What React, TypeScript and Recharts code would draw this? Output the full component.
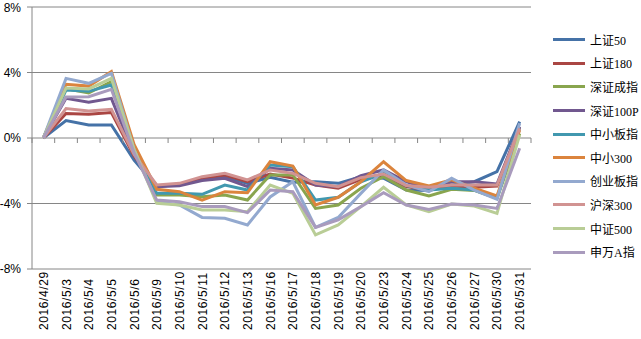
import React from "react";
import { LineChart, Line, XAxis, YAxis, CartesianGrid } from "recharts";

const dates = [
  "2016/4/29", "2016/5/3", "2016/5/4", "2016/5/5", "2016/5/6", "2016/5/9",
  "2016/5/10", "2016/5/11", "2016/5/12", "2016/5/13", "2016/5/16", "2016/5/17",
  "2016/5/18", "2016/5/19", "2016/5/20", "2016/5/23", "2016/5/24", "2016/5/25",
  "2016/5/26", "2016/5/27", "2016/5/30", "2016/5/31",
];

// daily cumulative change, %
const sz50 = [0, 1.06, 0.8, 0.8, -1.35, -2.97, -2.83, -2.5, -2.36, -2.77, -2.4, -2.7, -2.67, -2.77, -2.36, -2.46, -3.18, -3.2, -2.87, -2.67, -2.06, 1.0];
const sz180 = [0, 1.5, 1.45, 1.55, -1.1, -2.93, -2.83, -2.46, -2.26, -2.66, -2.2, -2.45, -2.87, -3.07, -2.52, -2.3, -2.97, -3.18, -2.93, -3.0, -2.93, 0.65];
const szcz = [0, 3.0, 2.75, 3.45, -0.8, -3.48, -3.48, -3.58, -3.48, -3.79, -2.26, -2.26, -4.3, -4.09, -3.07, -2.36, -3.18, -3.54, -3.13, -3.2, -3.68, 0.28];
const sz100p = [0, 2.42, 2.18, 2.42, -1.0, -2.97, -2.91, -2.6, -2.46, -2.97, -1.85, -1.95, -2.87, -2.97, -2.3, -1.95, -2.66, -3.13, -2.67, -2.67, -2.81, 0.69];
const zxb = [0, 2.93, 2.85, 3.24, -0.8, -3.38, -3.38, -3.44, -2.87, -3.18, -1.65, -1.75, -3.79, -3.62, -2.67, -2.16, -2.9, -3.18, -3.07, -3.18, -3.68, 0.59];
const zx300 = [0, 3.28, 3.17, 4.05, -0.4, -3.13, -3.28, -3.79, -3.28, -3.34, -1.45, -1.71, -4.09, -3.62, -2.67, -1.45, -2.6, -2.93, -2.56, -3.07, -3.54, 0.49];
const cyb = [0, 3.64, 3.34, 3.95, -0.7, -3.89, -4.09, -4.85, -4.9, -5.31, -3.6, -2.67, -5.46, -4.85, -3.38, -1.95, -2.87, -3.28, -2.46, -3.18, -3.74, 0.9];
const hs300 = [0, 1.8, 1.65, 1.75, -1.0, -2.87, -2.77, -2.36, -2.16, -2.56, -1.95, -2.16, -2.77, -2.97, -2.42, -2.2, -2.9, -3.0, -2.87, -2.87, -2.87, 0.59];
const zz500 = [0, 3.05, 3.0, 3.64, -0.7, -3.99, -4.09, -4.4, -4.4, -4.5, -2.87, -3.38, -5.92, -5.31, -4.19, -3.01, -4.09, -4.5, -4.03, -4.15, -4.6, 0.2];
const swa = [0, 2.5, 2.52, 2.97, -0.9, -3.79, -3.89, -4.19, -4.19, -4.56, -3.18, -3.28, -5.46, -5.0, -4.19, -3.34, -4.09, -4.36, -4.03, -4.09, -4.3, -0.63];

const yTicks = [-8, -4, 0, 4, 8];

const series = [
  { name: "上证50", values: sz50, color: "#4572A7" },
  { name: "上证180", values: sz180, color: "#AA4643" },
  { name: "深证成指", values: szcz, color: "#89A54E" },
  { name: "深证100P", values: sz100p, color: "#71588F" },
  { name: "中小板指", values: zxb, color: "#4198AF" },
  { name: "中小300", values: zx300, color: "#DB843D" },
  { name: "创业板指", values: cyb, color: "#93A9CF" },
  { name: "沪深300", values: hs300, color: "#D19392" },
  { name: "中证500", values: zz500, color: "#B9CD96" },
  { name: "申万A指", values: swa, color: "#A99BBD" },
];

const data = dates.map((date, i) => {
  const row: Record<string, string | number> = { date };
  series.forEach(s => (row[s.name] = s.values[i]));
  return row;
});

const GRID = "#868686";
const PLOT_TOP = 7;
const PLOT_H = 262;
const PLOT_W = 499;
const ZERO_Y = PLOT_TOP + PLOT_H / 2;

function XTick(props: any) {
  const { x, payload, index } = props;
  const step = PLOT_W / dates.length;
  return (
    <g>
      <line x1={x - step / 2} x2={x - step / 2} y1={ZERO_Y} y2={ZERO_Y + 5} stroke={GRID} />
      {index === dates.length - 1 && (
        <line x1={x + step / 2} x2={x + step / 2} y1={ZERO_Y} y2={ZERO_Y + 5} stroke={GRID} />
      )}
      <text
        transform={`translate(${x + 4.5},330) rotate(-90)`}
        textAnchor="start"
        fontSize={12}
        letterSpacing={0.6}
        fontFamily="'Liberation Sans', Arial, sans-serif"
        fill="#000"
      >
        {payload.value}
      </text>
    </g>
  );
}

function ChartLegend() {
  return (
    <div style={{ position: "absolute", left: 553, top: 28, width: 88 }}>
      {series.map(s => (
        <div key={s.name} style={{ display: "flex", alignItems: "center", height: 23.6 }}>
          <div style={{ width: 32, height: 3, background: s.color, marginRight: 5, flexShrink: 0 }} />
          <span
            style={{
              fontSize: 12,
              fontFamily: "'Liberation Serif', 'Noto Sans CJK SC', serif",
              color: "#000",
              whiteSpace: "nowrap",
            }}
          >
            {s.name}
          </span>
        </div>
      ))}
    </div>
  );
}

export default function App() {
  return (
    <div style={{ position: "absolute", left: 0, top: 0, width: 641, height: 339, background: "#fff", overflow: "hidden" }}>
      <LineChart width={641} height={339} data={data} margin={{ top: PLOT_TOP, right: 110, bottom: 0, left: 0 }}>
        <CartesianGrid vertical={false} stroke={GRID} />
        <XAxis
          dataKey="date"
          scale="band"
          height={70}
          interval={0}
          axisLine={false}
          tickLine={false}
          tick={<XTick />}
        />
        <YAxis
          width={32}
          domain={[-8, 8]}
          ticks={yTicks}
          tickFormatter={(v: number) => `${v}%`}
          tickSize={5}
          tickMargin={6}
          axisLine={{ stroke: GRID }}
          tickLine={{ stroke: GRID }}
          tick={{ fontSize: 12, fill: "#000", fontFamily: "'Liberation Sans', Arial, sans-serif" }}
        />
        {series.map(s => (
          <Line
            key={s.name}
            dataKey={s.name}
            stroke={s.color}
            strokeWidth={3}
            dot={false}
            activeDot={false}
            isAnimationActive={false}
          />
        ))}
      </LineChart>
      <ChartLegend />
    </div>
  );
}
